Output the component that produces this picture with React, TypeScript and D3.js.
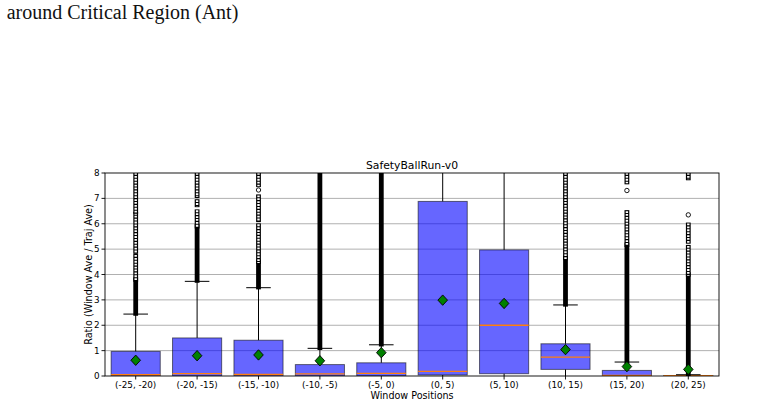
import React from 'react';
import * as d3 from 'd3';

const categories = ['(-25, -20)', '(-20, -15)', '(-15, -10)', '(-10, -5)', '(-5, 0)', '(0, 5)', '(5, 10)', '(10, 15)', '(15, 20)', '(20, 25)'];
const q1 = [0, 0, 0, 0, 0, 0.04, 0.09, 0.26, 0, 0];
const medians = [0.05, 0.09, 0.06, 0.08, 0.1, 0.18, 2.0, 0.74, 0.02, 0.01];
const q3 = [0.97, 1.5, 1.41, 0.45, 0.52, 6.88, 4.97, 1.27, 0.22, 0.02];
const whiskerLow = [0, 0, 0, 0, 0, 0, 0, 0, 0, 0];
const whiskerHigh = [2.44, 3.73, 3.48, 1.09, 1.23, 12, 11, 2.8, 0.55, 0.05];
const means = [0.62, 0.8, 0.83, 0.6, 0.92, 2.99, 2.86, 1.04, 0.37, 0.26];
// outliers: packed runs (solid), chains of circles, single circles
const denseRuns: number[][][] = [
  [[2.46, 3.8]], [[3.76, 5.9]], [[3.5, 4.5]], [[1.11, 7.95]], [[1.25, 7.95]],
  [], [], [[2.82, 4.65]], [[0.57, 5.17]], [[0.06, 4.0]],
];
const chainRuns: number[][][] = [
  [[3.8, 4.72], [4.9, 6.38], [6.48, 7.95]],
  [[5.9, 6.48], [6.74, 6.88], [7.1, 7.95]],
  [[4.5, 5.93], [6.15, 7.07], [7.53, 7.95]],
  [], [], [], [],
  [[4.65, 7.95]],
  [[5.17, 6.45], [7.64, 7.95]],
  [[4.0, 5.08], [5.3, 5.96], [7.8, 7.95]],
];
const loneOutliers: number[][] = [[], [], [7.33], [], [], [], [], [], [7.31], [6.35]];
const yTicks = [0, 1, 2, 3, 4, 5, 6, 7, 8];

const W = 758;
const H = 405;
const m = { left: 105, right: 719, top: 173, bottom: 376 };
const R = 2.2;

export default function App() {
  const x = d3.scaleBand().domain(categories).range([m.left, m.right]);
  const y = d3.scaleLinear().domain([0, 8]).range([m.bottom, m.top]);
  const bw = x.bandwidth() * 0.8;
  const cx = (i: number) => (x(categories[i]) as number) + x.bandwidth() / 2;
  const sans = 'DejaVu Sans, sans-serif';

  return (
    <div style={{ position: 'absolute', left: 0, top: 0, background: '#fff' }}>
      <svg width={W} height={H} style={{ display: 'block' }}>
        <defs>
          <clipPath id="plot">
            <rect x={m.left} y={m.top} width={m.right - m.left} height={m.bottom - m.top} />
          </clipPath>
        </defs>
        <text x={6.7} y={19} fontFamily="Liberation Serif, Times New Roman, serif" fontSize={20} fill="#111">
          around Critical Region (Ant)
        </text>

        {yTicks.slice(1, -1).map((t) => (
          <line key={t} x1={m.left} x2={m.right} y1={y(t)} y2={y(t)} stroke="#b0b0b0" strokeWidth={1} />
        ))}

        <g clipPath="url(#plot)">
          {categories.map((c, i) => (
            <g key={c}>
              <line x1={cx(i)} x2={cx(i)} y1={y(q3[i])} y2={y(whiskerHigh[i])} stroke="#000" strokeWidth={1} />
              <line x1={cx(i)} x2={cx(i)} y1={y(q1[i])} y2={y(whiskerLow[i])} stroke="#000" strokeWidth={1} />
              <rect
                x={cx(i) - bw / 2}
                y={y(q3[i])}
                width={bw}
                height={Math.max(y(q1[i]) - y(q3[i]), 0.5)}
                fill="rgb(0,0,255)"
                fillOpacity={0.6}
                stroke="#000"
                strokeOpacity={0.55}
                strokeWidth={1}
              />
              <line x1={cx(i) - bw / 2} x2={cx(i) + bw / 2} y1={y(medians[i])} y2={y(medians[i])} stroke="#ff7f0e" strokeWidth={1.3} />
              <line x1={cx(i) - bw / 4} x2={cx(i) + bw / 4} y1={y(whiskerHigh[i])} y2={y(whiskerHigh[i])} stroke="#000" strokeWidth={1} />
              {denseRuns[i].map(([lo, hi], k) => (
                <line key={'d' + k} x1={cx(i)} x2={cx(i)} y1={y(hi) - R} y2={y(lo) + R} stroke="#000" strokeWidth={4.8} />
              ))}
              {chainRuns[i].map(([lo, hi], k) => (
                <g key={'c' + k}>
                  <line x1={cx(i)} x2={cx(i)} y1={y(hi) - R} y2={y(lo) + R} stroke="#000" strokeWidth={4.8} />
                  <line x1={cx(i)} x2={cx(i)} y1={y(hi) - 1.2} y2={y(lo) + 1.2} stroke="#fff" strokeWidth={2.4} strokeDasharray="1.8 1.1" />
                </g>
              ))}
              {loneOutliers[i].map((v, k) => (
                <circle key={'o' + k} cx={cx(i)} cy={y(v)} r={R} fill="#fff" stroke="#000" strokeWidth={0.9} />
              ))}
              <path
                d={`M${cx(i)},${y(means[i]) - 5.2}L${cx(i) + 4.8},${y(means[i])}L${cx(i)},${y(means[i]) + 5.2}L${cx(i) - 4.8},${y(means[i])}Z`}
                fill="#008000"
                stroke="#000"
                strokeWidth={0.9}
              />
            </g>
          ))}
        </g>

        <rect x={m.left} y={m.top} width={m.right - m.left} height={m.bottom - m.top} fill="none" stroke="#000" strokeWidth={0.9} />

        {yTicks.map((t) => (
          <g key={t}>
            <line x1={m.left - 3.5} x2={m.left} y1={y(t)} y2={y(t)} stroke="#000" strokeWidth={0.9} />
            <text x={m.left - 5.5} y={y(t)} dy="0.35em" textAnchor="end" fontFamily={sans} fontSize={8.8} fill="#000">
              {t}
            </text>
          </g>
        ))}
        {categories.map((c, i) => (
          <g key={c}>
            <line x1={cx(i)} x2={cx(i)} y1={m.bottom} y2={m.bottom + 3.5} stroke="#000" strokeWidth={0.9} />
            <text x={cx(i)} y={387.5} textAnchor="middle" fontFamily={sans} fontSize={8.8} fill="#000">
              {c}
            </text>
          </g>
        ))}
        <text x={(m.left + m.right) / 2} y={398.5} textAnchor="middle" fontFamily={sans} fontSize={9.6} fill="#000">
          Window Positions
        </text>
        <text
          transform={`translate(91.5, ${(m.top + m.bottom) / 2}) rotate(-90)`}
          textAnchor="middle"
          fontFamily={sans}
          fontSize={9.6}
          fill="#000"
        >
          Ratio (Window Ave / Traj Ave)
        </text>
        <text x={(m.left + m.right) / 2} y={169} textAnchor="middle" fontFamily={sans} fontSize={10.8} fill="#000">
          SafetyBallRun-v0
        </text>
      </svg>
    </div>
  );
}
